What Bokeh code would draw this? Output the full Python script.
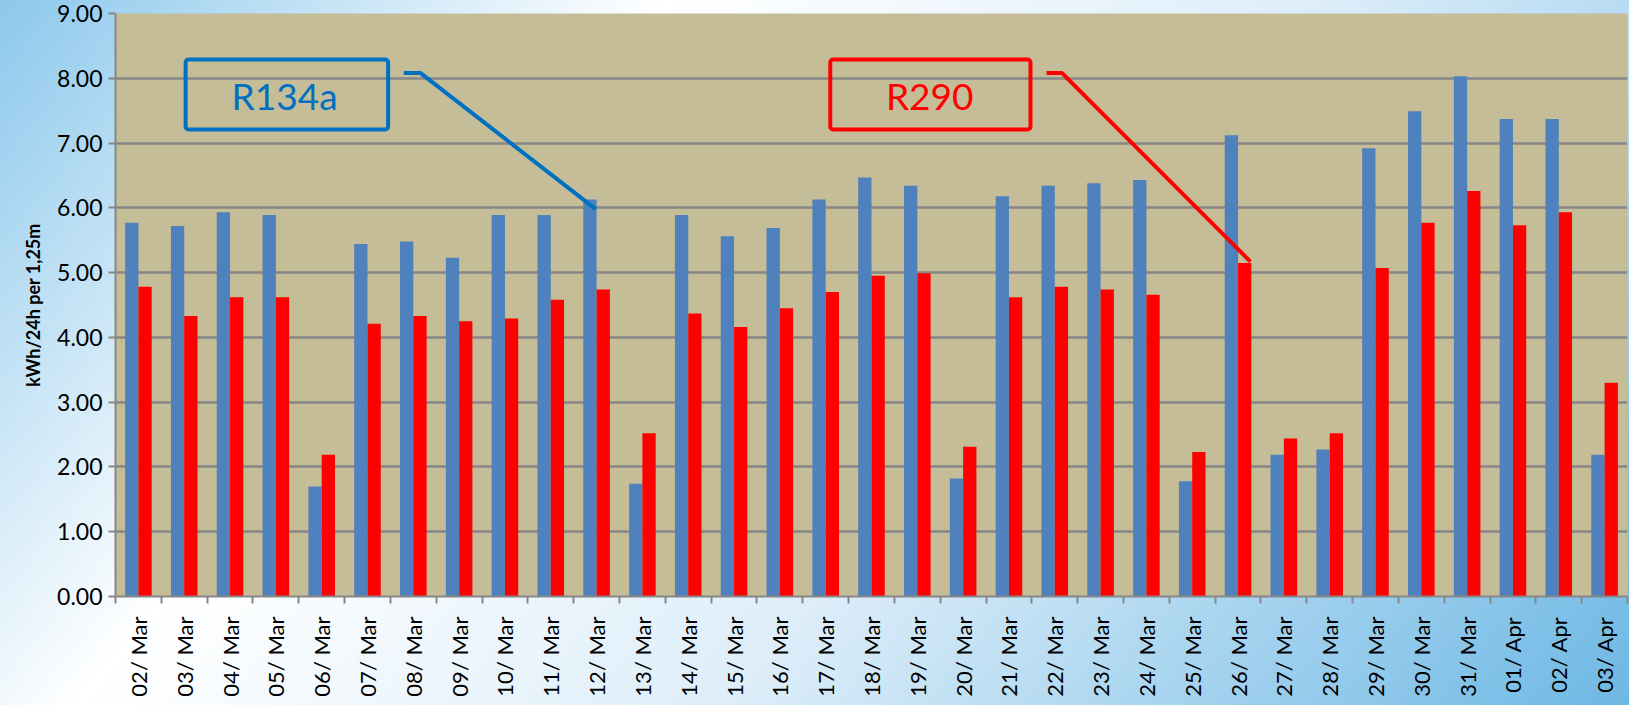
from bokeh.plotting import figure
from bokeh.models import (ColumnDataSource, Range1d, FixedTicker, NumeralTickFormatter,
                          BoxAnnotation, Label)
from bokeh.transform import dodge
from bokeh.embed import file_html
from bokeh.resources import INLINE

# ---- data ----
dates = ["02/ Mar", "03/ Mar", "04/ Mar", "05/ Mar", "06/ Mar", "07/ Mar", "08/ Mar",
         "09/ Mar", "10/ Mar", "11/ Mar", "12/ Mar", "13/ Mar", "14/ Mar", "15/ Mar",
         "16/ Mar", "17/ Mar", "18/ Mar", "19/ Mar", "20/ Mar", "21/ Mar", "22/ Mar",
         "23/ Mar", "24/ Mar", "25/ Mar", "26/ Mar", "27/ Mar", "28/ Mar", "29/ Mar",
         "30/ Mar", "31/ Mar", "01/ Apr", "02/ Apr", "03/ Apr"]
r134a = [5.77, 5.72, 5.93, 5.89, 1.70, 5.44, 5.48, 5.23, 5.89, 5.89, 6.13, 1.74, 5.89,
         5.56, 5.69, 6.13, 6.47, 6.34, 1.82, 6.18, 6.34, 6.38, 6.43, 1.78, 7.12, 2.19,
         2.27, 6.92, 7.49, 8.03, 7.37, 7.37, 2.19]
r290 = [4.78, 4.33, 4.62, 4.62, 2.19, 4.21, 4.33, 4.25, 4.29, 4.58, 4.74, 2.52, 4.37,
        4.16, 4.45, 4.70, 4.95, 4.99, 2.31, 4.62, 4.78, 4.74, 4.66, 2.23, 5.15, 2.44,
        2.52, 5.07, 5.77, 6.26, 5.73, 5.93, 3.30]
series_names = ["R134a", "R290"]
y_label = "kWh/24h per 1,25m"
y_ticks = [0, 1, 2, 3, 4, 5, 6, 7, 8, 9]

n = len(dates)
pos = [i + 0.5 for i in range(n)]
src = ColumnDataSource(dict(pos=pos, r134a=r134a, r290=r290))

FONT = "Lato"
BLUE = "#4F81BD"
RED = "#FF0000"
GRID = "#878787"

p = figure(width=1629, height=705, output_backend="svg", toolbar_location=None,
           x_range=Range1d(0, n), y_range=Range1d(0, 9),
           min_border_left=115, min_border_right=2, min_border_top=13, min_border_bottom=109)

p.styles = {"background": "linear-gradient(130deg, #8cc8ec 0%, #ffffff 30%, #dcedf9 60%, #6db8e4 100%)"}
p.border_fill_color = None
p.background_fill_color = "#C4BD97"
p.outline_line_color = None

bw = 0.29
p.vbar(x=dodge("pos", -bw / 2, range=p.x_range), top="r134a", width=bw, source=src,
       fill_color=BLUE, line_color=None)
p.vbar(x=dodge("pos", bw / 2, range=p.x_range), top="r290", width=bw, source=src,
       fill_color=RED, line_color=None)

# x axis
xa = p.xaxis[0]
xa.ticker = FixedTicker(ticks=pos, minor_ticks=list(range(n + 1)))
xa.major_label_overrides = {pp: d for pp, d in zip(pos, dates)}
xa.major_label_orientation = 1.5707963
xa.major_tick_line_color = None
xa.major_tick_out = 0
xa.major_tick_in = 0
xa.minor_tick_line_color = GRID
xa.minor_tick_line_width = 2
xa.minor_tick_in = 0
xa.minor_tick_out = 7
xa.axis_line_color = GRID
xa.axis_line_width = 2
xa.major_label_text_font = FONT
xa.major_label_text_font_size = "22px"
xa.major_label_text_color = "#000000"
xa.major_label_standoff = 13

# y axis
ya = p.yaxis[0]
ya.ticker = FixedTicker(ticks=y_ticks)
ya.formatter = NumeralTickFormatter(format="0.00")
ya.minor_tick_line_color = None
ya.major_tick_line_color = GRID
ya.major_tick_line_width = 2
ya.major_tick_in = 0
ya.major_tick_out = 7
ya.axis_line_color = GRID
ya.axis_line_width = 2
ya.major_label_text_font = FONT
ya.major_label_text_font_size = "23px"
ya.major_label_text_color = "#000000"
ya.major_label_standoff = 6
ya.axis_label = y_label
ya.axis_label_text_font = FONT
ya.axis_label_text_font_style = "bold"
ya.axis_label_text_font_size = "18px"
ya.axis_label_text_color = "#000000"
ya.axis_label_standoff = 10

p.xgrid.grid_line_color = None
p.ygrid.grid_line_color = GRID
p.ygrid.grid_line_width = 2.5

# ---- callouts (annotation geometry in data units) ----
callouts = [
    dict(name=series_names[0], color="#0070C0", box=(1.53, 5.95, 7.21, 8.29),
         text_xy=(3.69, 7.74), leader=([6.29, 6.66, 10.48], [8.08, 8.08, 5.98])),
    dict(name=series_names[1], color="#FF0000", box=(15.60, 19.97, 7.21, 8.29),
         text_xy=(17.77, 7.74), leader=([20.32, 20.66, 24.77], [8.08, 8.08, 5.17])),
]
for c in callouts:
    l, r, b, t = c["box"]
    p.add_layout(BoxAnnotation(left=l, right=r, bottom=b, top=t, fill_alpha=0,
                               line_color=c["color"], line_alpha=1.0, line_width=4,
                               border_radius=3))
    p.add_layout(Label(x=c["text_xy"][0], y=c["text_xy"][1], text=c["name"],
                       text_font=FONT, text_font_size="37px", text_color=c["color"],
                       text_align="center", text_baseline="middle"))
    p.line(c["leader"][0], c["leader"][1], line_color=c["color"], line_width=4)

open("out.html", "w").write(file_html(p, INLINE))
